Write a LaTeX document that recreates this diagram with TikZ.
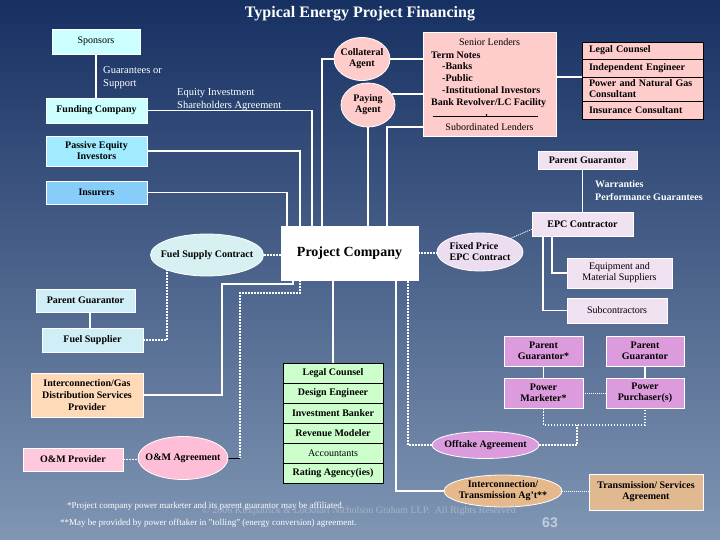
\documentclass[tikz,border=0pt]{standalone}
\usepackage{fontspec}
\setmainfont{Liberation Serif}
\newfontfamily\numfont{Liberation Sans}
\usetikzlibrary{shapes.geometric,calc}
\definecolor{bgtop}{RGB}{22,48,98}
\definecolor{bgbot}{RGB}{128,150,180}
\definecolor{cyanA}{RGB}{204,255,255}
\definecolor{cyanB}{RGB}{160,235,255}
\definecolor{cyanC}{RGB}{135,205,250}
\definecolor{cyanD}{RGB}{208,238,245}
\definecolor{fuelc}{RGB}{215,240,242}
\definecolor{pinkA}{RGB}{255,204,204}
\definecolor{lavA}{RGB}{240,226,240}
\definecolor{lavB}{RGB}{236,222,240}
\definecolor{orchidA}{RGB}{220,155,220}
\definecolor{peachA}{RGB}{255,218,185}
\definecolor{pinkB}{RGB}{255,200,220}
\definecolor{pinkC}{RGB}{255,190,215}
\definecolor{greenA}{RGB}{204,255,204}
\definecolor{tanA}{RGB}{230,185,140}
\definecolor{tanB}{RGB}{225,185,145}
\definecolor{copyc}{RGB}{165,180,202}
\definecolor{numc}{RGB}{195,205,222}
\pgfdeclarelayer{bgl}
\pgfdeclarelayer{lnl}
\pgfsetlayers{bgl,lnl,main}
\begin{document}
\begin{tikzpicture}[x=1pt,y=-1pt,
  fnt/.style={font=\fontsize{10}{11}\selectfont\bfseries},
  fntr/.style={font=\fontsize{10}{11}\selectfont},
  box/.style={draw=white, line width=0.5pt, inner sep=1pt, align=center, fnt, text=black},
  ell/.style={ellipse, draw=white, line width=0.8pt, inner xsep=-15pt, inner ysep=-3pt, align=center, fnt, text=black},
  rowl/.style={draw=black, line width=0.8pt, fill=pinkA, text width=107pt, inner xsep=7pt, inner ysep=0pt, align=left, fnt},
  rowg/.style={draw=black, line width=0.8pt, fill=greenA, minimum width=100pt, minimum height=20pt, inner sep=0pt, align=center, fnt},
  wl/.style={white, line width=1.8pt},
  dl/.style={white, line width=1.6pt, dash pattern=on 1.6pt off 1.4pt},
  tdl/.style={white, line width=0.9pt, dash pattern=on 1pt off 1pt},
  note/.style={text=white, align=left, anchor=west, inner sep=0pt, font=\fontsize{10.5}{13}\selectfont}
]
\useasboundingbox (0,0) rectangle (720,540);
\begin{pgfonlayer}{bgl}
\shade[top color=bgtop, bottom color=bgbot] (0,0) rectangle (720,540);
\end{pgfonlayer}

% title
\node[text=white, font=\fontsize{16}{18}\selectfont\bfseries] (title) at (360,14) {Typical Energy Project Financing};

% left top
\node[box, fill=cyanA, fntr, minimum width=88pt, minimum height=25pt] (sponsors) at (96,41.5) {Sponsors};
\node[box, fill=cyanA, minimum width=101pt, minimum height=25pt] (funding) at (96.5,110.5) {Funding Company};
\node[box, fill=cyanB, minimum width=101pt, minimum height=30pt] (passive) at (96.5,151) {Passive Equity\\Investors};
\node[box, fill=cyanC, minimum width=101pt, minimum height=23pt] (insurers) at (96.5,192.5) {Insurers};
\node[note] (gtxt) at (103,77.5) {Guarantees or\\Support};
\node[note] (eqtxt) at (177,99.5) {Equity Investment\\Shareholders Agreement};

% agents
\node[ell, fill=pinkA, minimum width=56pt, minimum height=43pt] (collateral) at (362,59) {Collateral\\Agent};
\node[ell, fill=pinkA, minimum width=54pt, minimum height=44pt] (paying) at (368,105) {Paying\\Agent};

% senior lenders
\node[draw=white, line width=0.8pt, fill=pinkA, minimum width=133pt, minimum height=104pt, inner sep=0pt] (senior) at (489.5,84) {};
\node[fntr, inner sep=0pt] (sent) at (489.5,42) {Senior Lenders};
\node[fnt, font=\fontsize{10}{11.75}\selectfont\bfseries, align=left, anchor=north west, inner sep=0pt] (senb) at (431,51.5)
  {Term Notes\\\hspace*{11pt}-Banks\\\hspace*{11pt}-Public\\\hspace*{11pt}-Institutional Investors\\Bank Revolver/LC Facility};
\draw[black, line width=0.7pt] ([xshift=10pt,yshift=20pt]senior.south west) -- ([xshift=-18pt,yshift=20pt]senior.south east);
\fill[black] ([xshift=-3pt,yshift=21.5pt]senior.south) circle (0.9pt);
\node[fntr, inner sep=0pt] (sensub) at (489.5,127) {Subordinated Lenders};

% legal stack right
\node[rowl, minimum height=17pt] (lc1) at (642.5,50.5) {Legal Counsel};
\node[rowl, minimum height=18pt] (lc2) at (642.5,68) {Independent Engineer};
\node[rowl, minimum height=24pt] (lc3) at (642.5,89) {Power and Natural Gas\\Consultant};
\node[rowl, minimum height=18pt] (lc4) at (642.5,110) {Insurance Consultant};

% EPC side
\node[box, fill=lavA, minimum width=99pt, minimum height=18pt] (pgtr) at (587.5,160) {Parent Guarantor};
\node[note, font=\fontsize{10}{13}\selectfont\bfseries] (wtxt) at (595,190.5) {Warranties\\Performance Guarantees};
\node[box, fill=lavA, minimum width=101pt, minimum height=24pt] (epc) at (582.5,224) {EPC Contractor};
\node[ell, fill=lavB, align=left, minimum width=86pt, minimum height=38pt] (fixed) at (480,252) {Fixed Price\\EPC Contract};
\node[box, fill=lavA, fntr, minimum width=105pt, minimum height=30pt] (equip) at (619.5,273) {Equipment and\\Material Suppliers};
\node[box, fill=lavA, fntr, minimum width=100pt, minimum height=25pt] (subc) at (617,310.5) {Subcontractors};

% offtake side
\node[box, fill=orchidA, minimum width=79pt, minimum height=30pt] (pgstar) at (543.5,351) {Parent\\Guarantor*};
\node[box, fill=orchidA, minimum width=79pt, minimum height=30pt] (pmark) at (543.5,393) {Power\\Marketer*};
\node[box, fill=orchidA, minimum width=78pt, minimum height=30pt] (pgr) at (645,351) {Parent\\Guarantor};
\node[box, fill=orchidA, minimum width=78pt, minimum height=30pt] (ppur) at (645,393) {Power\\Purchaser(s)};
\node[ell, fill=orchidA, minimum width=107pt, minimum height=27pt] (offtake) at (485.5,445) {Offtake Agreement};
\node[ell, fill=tanA, minimum width=118pt, minimum height=32pt] (ict) at (503,491) {Interconnection/\\Transmission Ag't**};
\node[box, fill=tanB, minimum width=114pt, minimum height=36pt] (tsa) at (646,492) {Transmission/ Services\\Agreement};

% project company
\node[draw=white, fill=white, minimum width=137pt, minimum height=54pt, inner sep=0pt, font=\fontsize{14}{16}\selectfont\bfseries] (project) at (349.5,253) {Project Company};
\node[ell, fill=fuelc, minimum width=113pt, minimum height=42pt] (fuelsc) at (207,255) {Fuel Supply Contract};

% left lower
\node[box, fill=cyanD, minimum width=99pt, minimum height=23pt] (pgl) at (85.5,300.5) {Parent Guarantor};
\node[box, fill=cyanD, minimum width=101pt, minimum height=24pt] (fuelsup) at (92.5,340) {Fuel Supplier};
\node[box, fill=peachA, font=\fontsize{10}{12}\selectfont\bfseries, minimum width=112pt, minimum height=44pt] (icg) at (87,395) {Interconnection/Gas\\Distribution Services\\Provider};
\node[box, fill=pinkB, minimum width=100pt, minimum height=23pt] (omp) at (73,459.5) {O\&M Provider};
\node[ell, fill=pinkC, minimum width=90pt, minimum height=43pt] (omag) at (183,458) {O\&M Agreement};

% green stack
\node[rowg] (g1) at (333,373) {Legal Counsel};
\node[rowg] (g2) at (333,393) {Design Engineer};
\node[rowg] (g3) at (333,413) {Investment Banker};
\node[rowg] (g4) at (333,433) {Revenue Modeler};
\node[rowg, fntr] (g5) at (333,453) {Accountants};
\node[rowg] (g6) at (333,473) {Rating Agency(ies)};

% footer
\node[text=white, anchor=west, inner sep=0pt, font=\fontsize{9}{10}\selectfont] (fn1) at (67,506) {*Project company power marketer and its parent guarantor may be affiliated.};
\node[text=copyc, anchor=west, inner sep=0pt, font=\fontsize{10}{11}\selectfont] (copy) at (202,511) {\textcopyright\ 2006 Kirkpatrick \& Lockhart Nicholson Graham LLP.\ \ All Rights Reserved};
\node[text=white, anchor=west, inner sep=0pt, font=\fontsize{9}{10}\selectfont] (fn2) at (60,523) {**May be provided by power offtaker in "tolling" (energy conversion) agreement.};
\node[text=numc, inner sep=0pt, font=\numfont\fontsize{14}{16}\selectfont\bfseries] (pnum) at (550,523) {63};

\coordinate (offj) at (577,425);
\coordinate (omj) at (240,458);

% connectors
\begin{pgfonlayer}{lnl}
\draw[wl] (sponsors.south) -- (sponsors.south |- funding.north);
\draw[wl] (funding.east) -| (312,0 |- project.north);
\draw[wl] (collateral.west) -| (322,0 |- project.north);
\draw[wl] (collateral.east) -- (collateral.east -| senior.west);
\draw[wl] (paying.25) -- (paying.25 -| senior.west);
\draw[wl] (paying.south) -- (paying.south |- project.north);
\draw[wl] (senior.west |- 0,127) -| (387,0 |- project.north);
\draw[wl] (senior.east |- 0,77) -- (lc1.west |- 0,77);
\draw[wl] (passive.east) -| (300,0 |- project.north);
\draw[wl] (insurers.east) -| (287,0 |- project.north);
\draw[dl] (fuelsc.east) -- (fuelsc.east -| project.west);
\draw[dl] (project.east) -- (project.east -| fixed.west);
\draw[tdl] (fixed.north east) -- ([yshift=7pt]epc.south west);
\draw[wl] (epc.north) -- (epc.north |- pgtr.south);
\draw[wl] (552,0 |- epc.south) |- (equip.west);
\draw[wl] (543,0 |- epc.south) |- (subc.west);
\draw[wl] (pgstar.south) -- (pmark.north);
\draw[wl] (pgr.south) -- (ppur.north);
\draw[tdl] (pmark.east) -- (ppur.west);
\draw[dl] (pmark.south) |- (offj) -| (ppur.south);
\draw[dl] (offtake.east) -| (offj);
\draw[dl] (offtake.west) -| (408,0 |- project.south);
\draw[wl] (ict.west) -| (396,0 |- project.south);
\draw[tdl] (ict.east) -- (ict.east -| tsa.west);
\draw[wl] (g1.north) -- (g1.north |- project.south);
\draw[wl] (90,0 |- pgl.south) -- (90,0 |- fuelsup.north);
\draw[dl] (fuelsup.east) -| (fuelsc.south west);
\draw[wl] (icg.east) -| (222,284) -| (293,0 |- project.south);
\draw[dl] (300,0 |- project.south) |- (240,293) -- (omj);
\draw[black, line width=1pt] (omag.east) -- (omj);
\draw[dl] (omp.east) -- (omp.east -| omag.west);
\end{pgfonlayer}
\end{tikzpicture}
\end{document}
